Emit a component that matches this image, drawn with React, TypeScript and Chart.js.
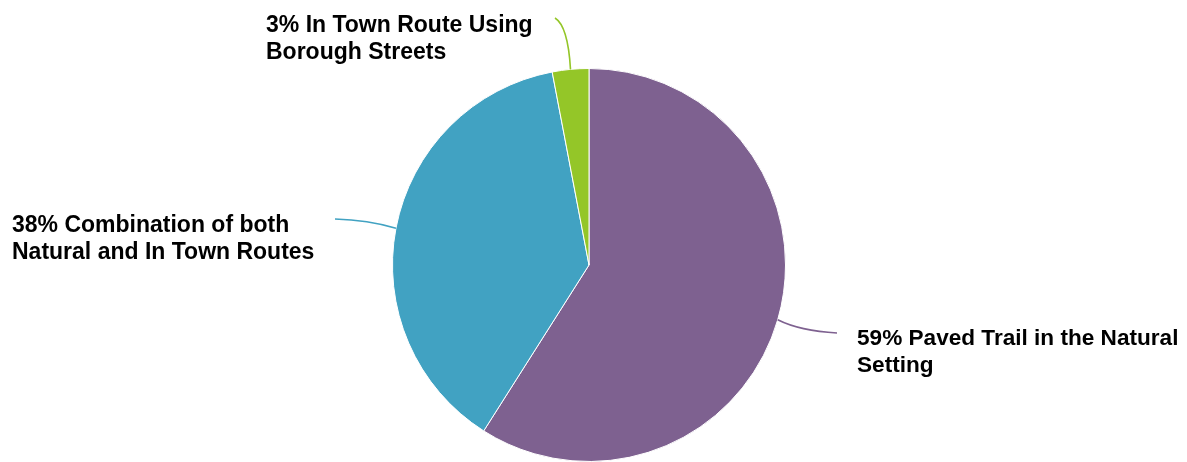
import React, { useEffect, useRef } from "react";
import { Chart, registerables } from "chart.js";

Chart.register(...registerables);

const categories = [
  "Paved Trail in the Natural Setting",
  "Combination of both Natural and In Town Routes",
  "In Town Route Using Borough Streets",
];
const values = [59, 38, 3];
const labelLines = [
  ["59% Paved Trail in the Natural", "Setting"],
  ["38% Combination of both", "Natural and In Town Routes"],
  ["3% In Town Route Using", "Borough Streets"],
];
const colors = ["#7E6190", "#41A2C2", "#94C628"];

// layout of the callouts (label position, leader end, control point)
const callouts = [
  { tx: 857, ty: 345, ex: 837, ey: 333, cx: 800, cy: 331, size: 22.6 },
  { tx: 12, ty: 232, ex: 335, ey: 219, cx: 368, cy: 220, size: 23 },
  { tx: 266, ty: 31.5, ex: 555, ey: 18, cx: 568, cy: 26, size: 23 },
];

const calloutPlugin = {
  id: "callouts",
  afterDatasetsDraw(chart: any) {
    const ctx = chart.ctx;
    const meta = chart.getDatasetMeta(0);
    meta.data.forEach((arc: any, i: number) => {
      const p = arc.getProps(["x", "y", "startAngle", "endAngle", "outerRadius"], true);
      const mid = (p.startAngle + p.endAngle) / 2;
      const ax = p.x + Math.cos(mid) * p.outerRadius;
      const ay = p.y + Math.sin(mid) * p.outerRadius;
      const c = callouts[i];
      ctx.save();
      ctx.strokeStyle = colors[i];
      ctx.lineWidth = 1.6;
      ctx.beginPath();
      ctx.moveTo(ax, ay);
      ctx.quadraticCurveTo(c.cx, c.cy, c.ex, c.ey);
      ctx.stroke();
      ctx.fillStyle = "#000";
      ctx.font = `bold ${c.size}px 'Liberation Sans', Arial, sans-serif`;
      ctx.textBaseline = "alphabetic";
      ctx.textAlign = "left";
      labelLines[i].forEach((line, j) => {
        ctx.fillText(line, c.tx, c.ty + j * 27);
      });
      ctx.restore();
    });
  },
};

export default function App() {
  const ref = useRef<HTMLCanvasElement>(null);
  useEffect(() => {
    document.body.style.margin = "0";
    const chart = new Chart(ref.current!, {
      type: "pie",
      data: {
        labels: categories,
        datasets: [
          {
            data: values,
            backgroundColor: colors,
            borderColor: "#ffffff",
            borderWidth: 1,
          },
        ],
      },
      options: {
        animation: false,
        responsive: false,
        layout: { padding: { top: 68, bottom: 0, left: 392, right: 401 } },
        plugins: {
          legend: { display: false },
          tooltip: { enabled: false },
        },
      },
      plugins: [calloutPlugin],
    });
    return () => chart.destroy();
  }, []);
  return (
    <div style={{ width: 1187, height: 462, background: "#fff" }}>
      <canvas ref={ref} width={1187} height={462} />
    </div>
  );
}
